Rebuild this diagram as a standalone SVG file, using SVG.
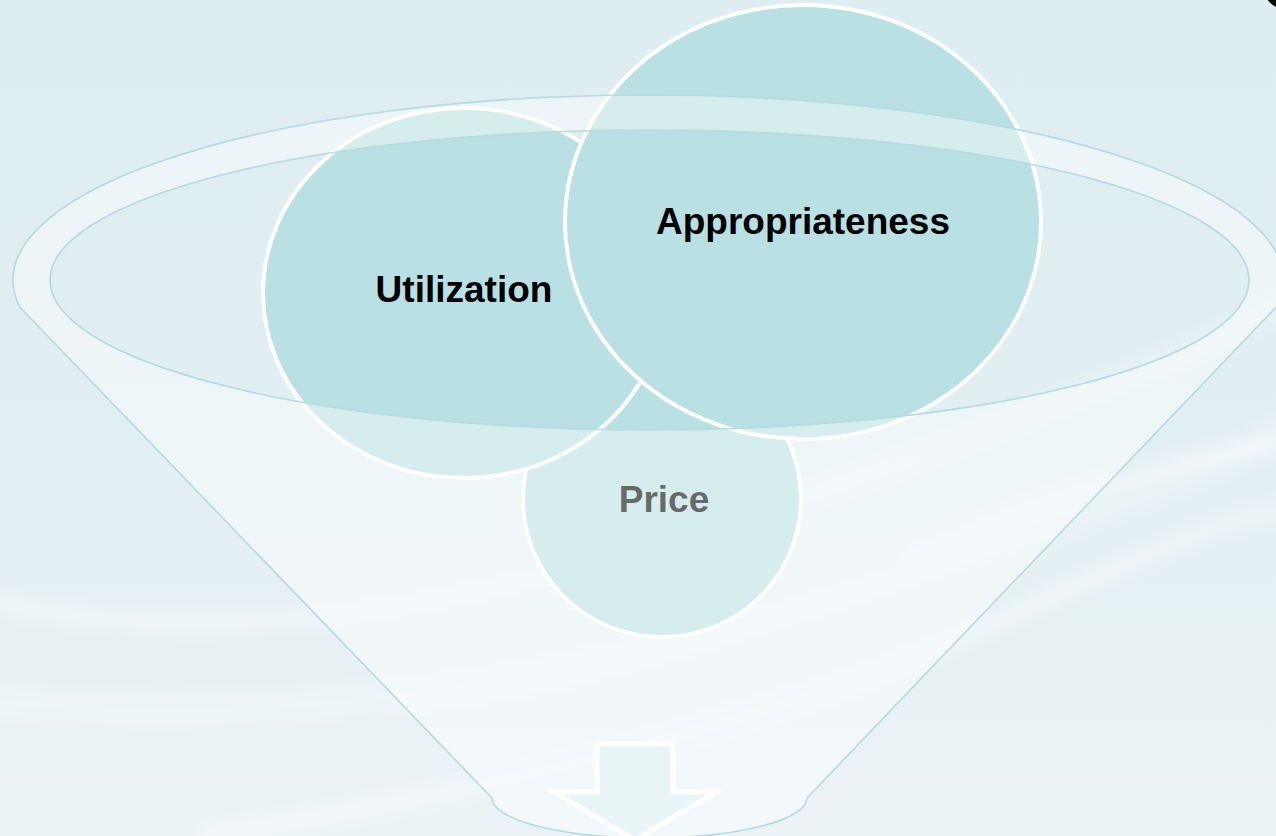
<svg xmlns="http://www.w3.org/2000/svg" width="1276" height="836" viewBox="0 0 1276 836">
  <defs>
    <linearGradient id="bg" x1="0" y1="0" x2="0" y2="1">
      <stop offset="0" stop-color="#deedf1"/>
      <stop offset="0.45" stop-color="#e1eff2"/>
      <stop offset="1" stop-color="#ebf3f6"/>
    </linearGradient>
    <filter id="blur" x="-10%" y="-10%" width="120%" height="120%">
      <feGaussianBlur stdDeviation="7"/>
    </filter>
    <style>
      .circ { fill: #b9e0e3; stroke: #ffffff; stroke-width: 4; }
      .lbl { font-family: "Liberation Sans", Arial, sans-serif; font-weight: bold; font-size: 37px; text-anchor: middle; fill: #000000; }
      .funnel { fill: #ffffff; fill-opacity: 0.41; fill-rule: evenodd; stroke: none; }
      .fline { fill: none; stroke: #b3dbe0; stroke-width: 1.6; }
    </style>
  </defs>

  <!-- background -->
  <rect x="0" y="0" width="1276" height="836" fill="url(#bg)"/>
  <g filter="url(#blur)" fill="none" stroke="#ffffff">
    <path d="M -20 600 Q 250 660 600 560 T 1300 300" stroke-width="24" stroke-opacity="0.22"/>
    <path d="M -20 700 Q 350 740 760 620 T 1300 420" stroke-width="30" stroke-opacity="0.2"/>
    <path d="M 200 836 Q 700 760 1000 620 T 1300 520" stroke-width="22" stroke-opacity="0.25"/>
    <path d="M 900 560 Q 1100 470 1300 440" stroke-width="18" stroke-opacity="0.3"/>
  </g>

  <!-- nodes -->
  <g id="node-price">
    <ellipse class="circ" cx="662" cy="499" rx="139" ry="138"/>
    <text class="lbl" x="664" y="512">Price</text>
  </g>
  <g id="node-utilization">
    <ellipse class="circ" cx="464" cy="293" rx="201" ry="185"/>
    <text class="lbl" x="464" y="302">Utilization</text>
  </g>
  <g id="node-appropriateness">
    <ellipse class="circ" cx="803" cy="222" rx="238" ry="217"/>
    <text class="lbl" x="803" y="234">Appropriateness</text>
  </g>

  <!-- funnel -->
  <g id="funnel">
    <path class="funnel" d="M 19.8 307 A 635 185 0 1 1 1276.2 307 L 807 798 A 157.5 40 0 0 1 492 798 Z M 50 280 A 599.5 150 0 1 0 1249 280 A 599.5 150 0 1 0 50 280 Z"/>
    <path class="fline" d="M 19.8 307 A 635 185 0 1 1 1276.2 307 L 807 798 A 157.5 40 0 0 1 492 798 Z"/>
    <ellipse class="fline" cx="649.5" cy="280" rx="599.5" ry="150"/>
  </g>

  <!-- connectors -->
  <g id="connectors">
    <polygon points="597,744 673,744 673,792 716,792 635,840 554,792 597,792" fill="#e8f4f6" stroke="#ffffff" stroke-width="5" stroke-linejoin="miter"/>
  </g>

  <!-- corner mark -->
  <circle cx="1285" cy="-12" r="21" fill="#000000"/>
</svg>
